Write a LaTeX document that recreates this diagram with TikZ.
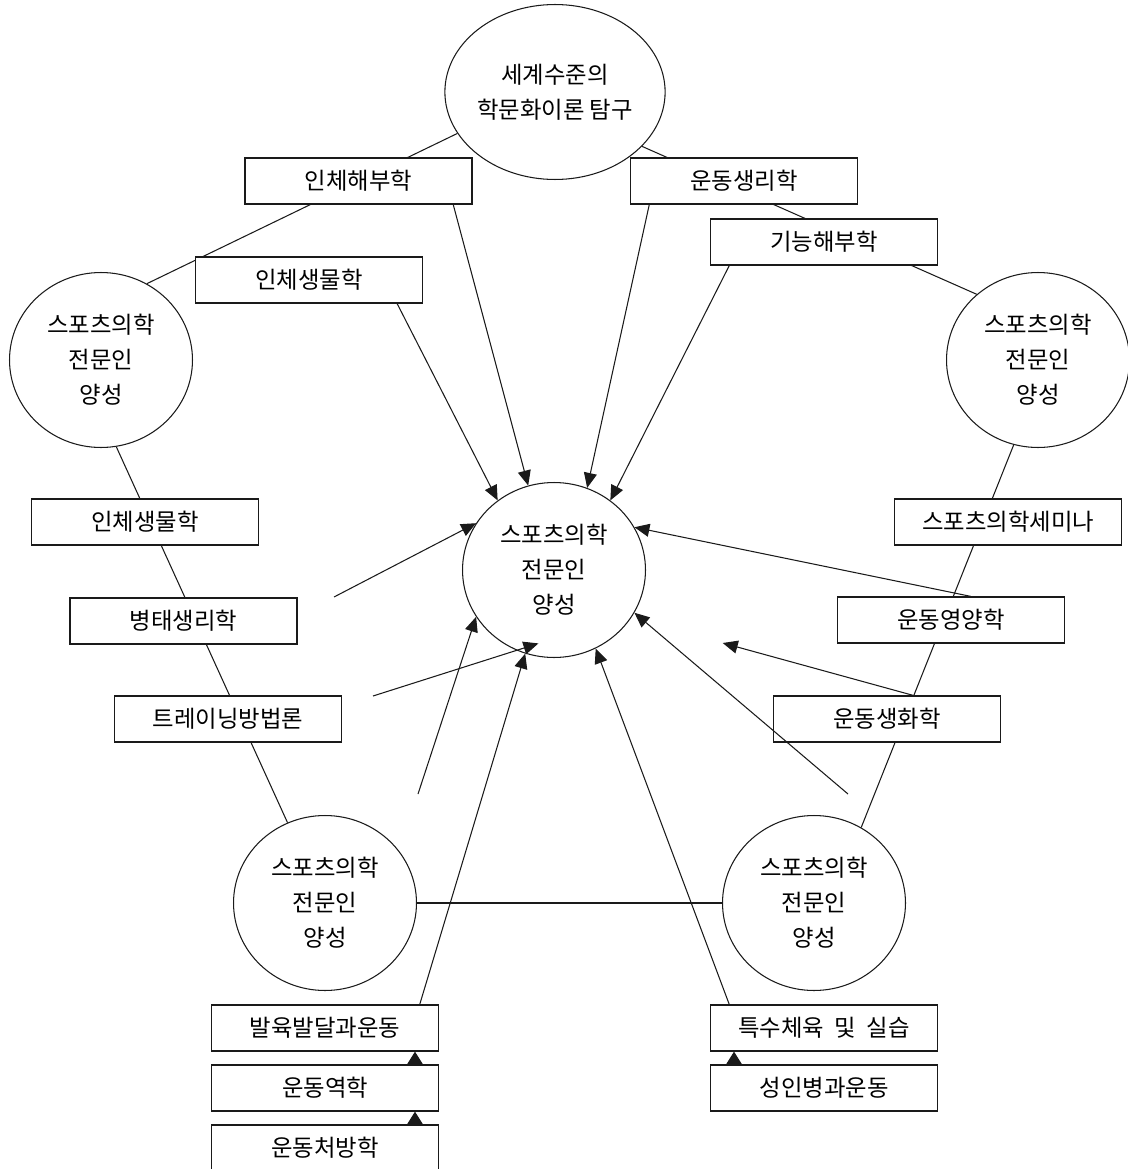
\documentclass[tikz,border=0pt]{standalone}
\usepackage{fontspec}
\setmainfont{Noto Sans CJK KR}
\usepackage{tikz}
\usetikzlibrary{arrows.meta,shapes.geometric}
\definecolor{ink}{HTML}{1A1A1A}
\newcommand{\kfont}{\fontsize{13.3}{20}\selectfont}
\tikzset{
  hub/.style={ellipse,draw=ink,fill=white,line width=0.6pt,minimum width=3.66cm,
              minimum height=3.5cm,inner sep=0pt,align=center,font=\kfont},
  card/.style={draw=ink,fill=white,line width=0.7pt,minimum width=4.54cm,
               minimum height=0.92cm,inner sep=0pt,font=\kfont},
  link/.style={draw=ink,line width=0.6pt},
  feed/.style={-{Triangle[length=3mm,width=2.6mm]},line width=0.6pt,draw=ink},
  lift/.style={-{Triangle[length=2.6mm,width=3.2mm]},line width=0.6pt,draw=ink}
}
\begin{document}
\begin{tikzpicture}[x=0.02cm,y=-0.02cm]
    \path[use as bounding box] (0,0) rectangle (1127,1169);
    \node[hub] (top) at (555,92) {세계수준의\\학문화이론 탐구};
    \node[hub] (lc) at (101,360) {스포츠의학\\전문인\\양성};
    \node[hub] (rc) at (1038,360) {스포츠의학\\전문인\\양성};
    \node[hub] (ctr) at (554,570) {스포츠의학\\전문인\\양성};
    \node[hub] (bl) at (325,903) {스포츠의학\\전문인\\양성};
    \node[hub] (br) at (814,903) {스포츠의학\\전문인\\양성};
    \draw[link] (top.203) -- (lc.59);
    \draw[link] (top.328) -- (rc.133);
    \draw[link] (lc.280) -- (bl.115);
    \draw[link] (rc.254) -- (br.58);
    \draw[link] (bl.east) -- (br.west);
    \node[card] (anat) at (358.5,181) {인체해부학};
    \node[card] (bioA) at (309,280) {인체생물학};
    \node[card] (physio) at (744,181) {운동생리학};
    \node[card] (func) at (824,242) {기능해부학};
    \node[card] (bioB) at (145,522) {인체생물학};
    \node[card] (patho) at (183.5,621) {병태생리학};
    \node[card] (train) at (228,719) {트레이닝방법론};
    \node[card] (semi) at (1008,522) {스포츠의학세미나};
    \node[card] (nutri) at (951,620) {운동영양학};
    \node[card] (chem) at (887,719) {운동생화학};
    \node[card] (grow) at (325,1028) {발육발달과운동};
    \node[card] (mech) at (325,1088) {운동역학};
    \node[card] (presc) at (325,1148) {운동처방학};
    \node[card] (spec) at (824,1028) {특수체육~~및~~실습};
    \node[card] (adult) at (824,1088) {성인병과운동};
    \coordinate (c1) at (722.7,643);
    \coordinate (c2) at (848,794);
    \coordinate (c3) at (334,597);
    \coordinate (c4) at (373,696);
    \coordinate (c5) at (418,794);
    \draw[feed] (anat.-14) -- (ctr.107);
    \draw[feed] (bioA.-15) -- (ctr.129);
    \draw[feed] (physio.194) -- (ctr.68);
    \draw[feed] (func.194) -- (ctr.51);
    \draw[feed] (nutri.50) -- (ctr.28);
    \draw[feed] (chem.42) -- (c1);
    \draw[feed] (c2) -- (ctr.-28);
    \draw[feed] (c3) -- (ctr.149);
    \draw[feed,shorten >=-4.6mm] (c4) -- (ctr.245);
    \draw[feed] (c5) -- (ctr.211);
    \draw[feed] (grow.14.5) -- (ctr.251);
    \draw[feed] (spec.166) -- (ctr.298);
    \draw[lift] ([xshift=1.8cm]mech.north) -- ([xshift=1.8cm]grow.south);
    \draw[lift] ([xshift=1.8cm]presc.north) -- ([xshift=1.8cm]mech.south);
    \draw[lift] ([xshift=-1.8cm]adult.north) -- ([xshift=-1.8cm]spec.south);
  \end{tikzpicture}
\end{document}
